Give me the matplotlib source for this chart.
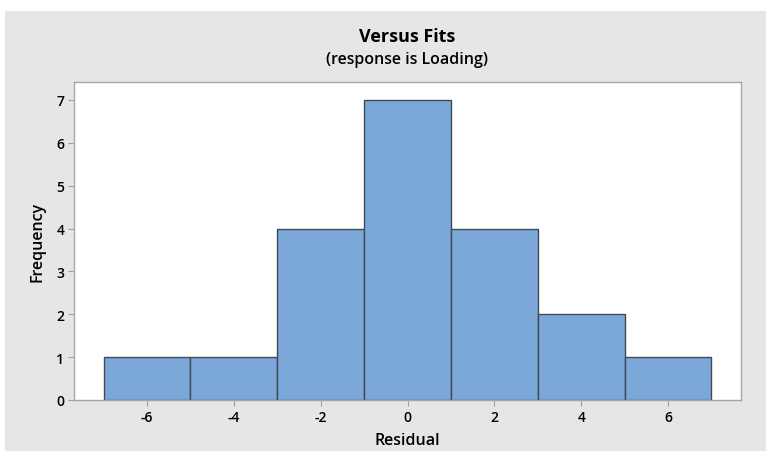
import matplotlib
matplotlib.use("Agg")
import matplotlib.pyplot as plt
from matplotlib.patches import Rectangle

bin_centers = [-6, -4, -2, 0, 2, 4, 6]
frequencies = [1, 1, 4, 7, 4, 2, 1]
x_ticks = [-6, -4, -2, 0, 2, 4, 6]
y_ticks = [0, 1, 2, 3, 4, 5, 6, 7]
title = "Versus Fits"
subtitle = "(response is Loading)"
x_label = "Residual"
y_label = "Frequency"

plt.rcParams['font.family'] = ['Open Sans', 'DejaVu Sans']

W, H = 766, 452
fig = plt.figure(figsize=(W / 100, H / 100), dpi=100)
fig.patch.set_facecolor("white")
fig.patches.append(Rectangle((5 / W, 0), 1 - 5 / W, 1 - 12 / H, transform=fig.transFigure,
                             facecolor="#e6e6e6", edgecolor="none", zorder=-10))

left, right, top, bottom = 74, 741, 83, 401
ax = fig.add_axes([left / W, 1 - bottom / H, (right - left) / W, (bottom - top) / H])
ax.set_facecolor("white")

ax.bar(bin_centers, frequencies, width=2, align="center", color="#7ba7d9",
       edgecolor="#404a55", linewidth=1.0)

ax.set_xlim(-7.68, 7.68)
ax.set_ylim(0, 7.42)
ax.set_xticks(x_ticks)
ax.set_xticklabels([str(v) for v in x_ticks])
ax.set_yticks(y_ticks)
ax.tick_params(axis="both", length=4, width=0.8, color="#a0a0a0", labelsize=10,
               labelcolor="black", pad=3)
for lbl in ax.get_xticklabels() + ax.get_yticklabels():
    lbl.set_fontweight("semibold")
for s in ax.spines.values():
    s.set_color("#a6a6a6")
    s.set_linewidth(1.0)

ax.set_xlabel(x_label, fontsize=11.5, fontweight="semibold", labelpad=6)
ax.set_ylabel(y_label, fontsize=11.5, fontweight="semibold", labelpad=8)

cx = (left + right) / 2 / W
fig.text(cx, 1 - 37 / H, title, ha="center", va="center", fontsize=13, fontweight="bold")
fig.text(cx, 1 - 60 / H, subtitle, ha="center", va="center", fontsize=11.5, fontweight="semibold")

fig.savefig("out.png", dpi=100)
